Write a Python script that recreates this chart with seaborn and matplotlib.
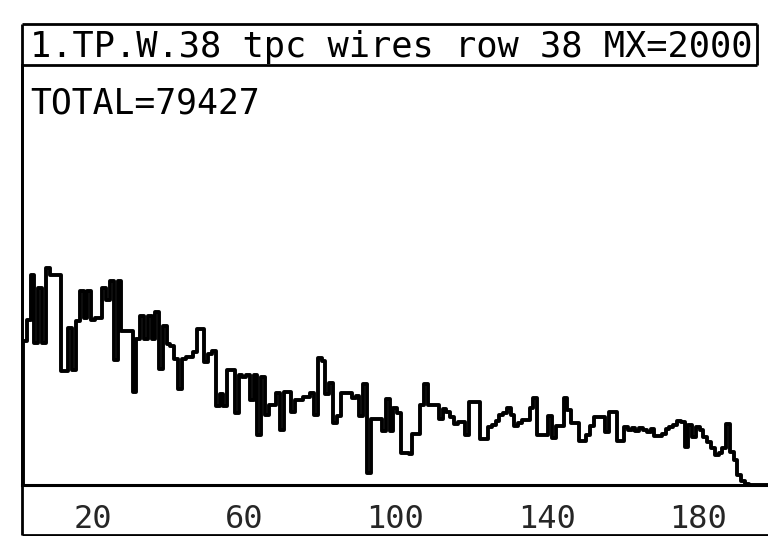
import numpy as np
import pandas as pd
import matplotlib
matplotlib.use("Agg")
import matplotlib.pyplot as plt
from matplotlib.lines import Line2D
import seaborn as sns

# ---- data -------------------------------------------------------------
title = "1.TP.W.38 tpc wires row 38 MX=2000"
total_label = "TOTAL=79427"
y_max = 2000

wires = list(range(1, 201))
counts = [
    0,
    688, 788, 1001, 678, 940, 678, 1034, 1000, 1000, 1000,
    544, 544, 748, 548, 780, 923, 794, 922, 785, 794,
    794, 936, 880, 970, 594, 970, 735, 735, 735, 445,
    697, 805, 697, 805, 696, 824, 553, 757, 671, 662,
    599, 457, 599, 608, 608, 632, 741, 741, 584, 622,
    636, 374, 431, 374, 549, 549, 345, 525, 515, 524,
    406, 524, 239, 514, 333, 381, 380, 437, 262, 442,
    442, 346, 403, 403, 417, 417, 436, 331, 606, 592,
    435, 487, 297, 330, 439, 439, 438, 415, 424, 329,
    480, 57, 314, 314, 313, 256, 408, 256, 365, 341,
    151, 151, 150, 245, 245, 382, 482, 382, 382, 381,
    315, 362, 348, 324, 290, 300, 299, 238, 394, 394,
    394, 218, 218, 275, 284, 307, 331, 345, 368, 335,
    283, 296, 311, 310, 367, 414, 238, 238, 238, 328,
    223, 280, 280, 413, 356, 294, 294, 208, 208, 236,
    283, 326, 325, 325, 254, 349, 349, 210, 210, 276,
    262, 272, 257, 271, 261, 252, 266, 232, 232, 241,
    265, 274, 288, 303, 302, 179, 287, 230, 277, 263,
    230, 206, 177, 143, 153, 176, 290, 157, 119, 48,
    19, 5, 2, 0, 0, 0, 0, 0, 0,
]

tick_values = [20, 40, 60, 80, 100, 120, 140, 160, 180]
tick_labels = ["20", "", "60", "", "100", "", "140", "", "180"]

df = pd.DataFrame({"wire": wires, "count": counts})

# ---- figure -----------------------------------------------------------
W, H = 768, 536
sns.set_style("white")
plt.rcParams["font.family"] = ["DejaVu Sans Mono", "DejaVu Sans"]

fig = plt.figure(figsize=(W / 100, H / 100), dpi=100)
fig.patch.set_facecolor("white")

ax_left, ax_right = 22, 768
ax_top, ax_bottom = 65, 485
ax = fig.add_axes([ax_left / W, 1 - ax_bottom / H,
                   (ax_right - ax_left) / W, (ax_bottom - ax_top) / H])

# one bin per wire, edges half-way between wire numbers
edges = [w - 0.5 for w in wires] + [wires[-1] + 0.5]
sns.histplot(data=df, x="wire", weights="count", bins=edges,
             element="step", fill=False, color="black",
             linewidth=2.8, ax=ax)

x0 = 1.22
ax.set_xlim(x0, x0 + (ax_right - ax_left) / 3.78)
ax.set_ylim(0, y_max)
ax.set_xlabel("")
ax.set_ylabel("")
ax.set_yticks([])
ax.set_xticks(tick_values)
ax.set_xticklabels(tick_labels)
ax.tick_params(axis="x", direction="in", length=6, width=2.0,
               color="black", pad=14, labelsize=23)
for side in ("top", "right"):
    ax.spines[side].set_visible(False)
ax.spines["left"].set_linewidth(2.0)
ax.spines["bottom"].set_linewidth(2.2)
ax.spines["left"].set_color("black")
ax.spines["bottom"].set_color("black")
ax.patch.set_alpha(0)


def fig_line(x0p, y0p, x1p, y1p, lw=2.0):
    fig.add_artist(Line2D([x0p / W, x1p / W], [1 - y0p / H, 1 - y1p / H],
                          transform=fig.transFigure, color="black",
                          linewidth=lw, solid_capstyle="butt"))


# outer frame and title box
fig_line(22, 24, 757, 24)
fig_line(22, 65, 757, 65)
fig_line(757, 24, 757, 65)
fig_line(22, 24, 22, 535)
fig_line(22, 535, 768, 535)

fig.text(30 / W, 1 - 57 / H, title, fontsize=25.5, color="black",
         ha="left", va="baseline")
fig.text(30 / W, 1 - 113 / H, total_label, fontsize=25, color="black",
         ha="left", va="baseline")

fig.savefig("out.png", dpi=100, facecolor="white")
